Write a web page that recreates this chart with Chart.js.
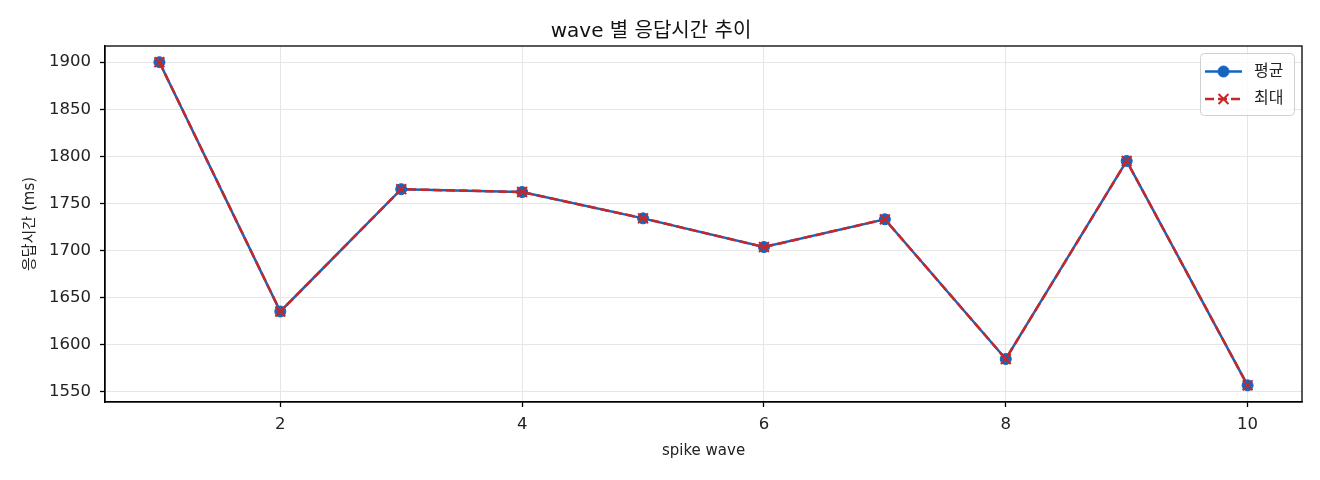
<!DOCTYPE html>
<html>
<head>
<meta charset="utf-8">
<script src="https://cdn.jsdelivr.net/npm/chart.js@4"></script>
<style>
  html, body { margin: 0; padding: 0; background: #fff; }
  #wrap { width: 1320px; height: 480px; }
</style>
</head>
<body>
<div id="wrap"><canvas id="waveChart"></canvas></div>
<script>
// data
var waves = [1, 2, 3, 4, 5, 6, 7, 8, 9, 10];
var avgMs = [1900, 1635, 1765, 1762, 1734, 1703.5, 1733, 1584.5, 1795, 1556.5];
var maxMs = [1900, 1635, 1765, 1762, 1734, 1703.5, 1733, 1584.5, 1795, 1556.5];
var xTicks = [2, 4, 6, 8, 10];
var yTicks = [1550, 1600, 1650, 1700, 1750, 1800, 1850, 1900];

var FONT = '"DejaVu Sans", "Noto Sans CJK KR", sans-serif';
var BLUE = '#1565C0';
var RED = '#C62828';

function toPoints(xs, ys) {
    return xs.map(function (x, i) { return { x: x, y: ys[i] }; });
}

// black frame on top and right like matplotlib spines
var framePlugin = {
    id: 'frame',
    afterDraw: function (chart) {
        var a = chart.chartArea, ctx = chart.ctx;
        ctx.save();
        ctx.strokeStyle = '#000';
        ctx.lineWidth = 1.3;
        ctx.strokeRect(a.left, a.top, a.right - a.left, a.bottom - a.top);
        ctx.restore();
    }
};

// legend inside the plot, upper right, line + marker samples
var legendPlugin = {
    id: 'innerLegend',
    afterDraw: function (chart) {
        var a = chart.chartArea, ctx = chart.ctx;
        var w = 94, h = 62;
        var x0 = a.right - 8 - w, y0 = a.top + 7;
        ctx.save();
        ctx.fillStyle = 'rgba(255,255,255,0.8)';
        ctx.strokeStyle = '#d0d0d0';
        ctx.lineWidth = 1;
        ctx.beginPath();
        ctx.roundRect(x0 + 0.5, y0 + 0.5, w, h, 4);
        ctx.fill();
        ctx.stroke();
        var order = [1, 0];
        order.forEach(function (di, row) {
            var ds = chart.data.datasets[di];
            var cy = y0 + 18.5 + row * 27.5;
            var lx0 = x0 + 5, lx1 = x0 + 42;
            ctx.strokeStyle = ds.borderColor;
            ctx.lineWidth = ds.borderWidth;
            ctx.setLineDash(ds.borderDash || []);
            ctx.beginPath();
            ctx.moveTo(lx0, cy);
            ctx.lineTo(lx1, cy);
            ctx.stroke();
            ctx.setLineDash([]);
            ctx.fillStyle = ds.backgroundColor;
            ctx.strokeStyle = ds.pointBorderColor;
            ctx.lineWidth = ds.pointBorderWidth;
            Chart.helpers.drawPoint(ctx, {
                pointStyle: ds.pointStyle,
                radius: ds.pointRadius,
                borderWidth: ds.pointBorderWidth
            }, (lx0 + lx1) / 2, cy);
            ctx.fillStyle = '#222';
            ctx.font = '16px ' + FONT;
            ctx.textBaseline = 'middle';
            ctx.fillText(ds.label, x0 + 54, cy);
        });
        ctx.restore();
    }
};

var ctx = document.getElementById('waveChart').getContext('2d');
var waveChart = new Chart(ctx, {
    type: 'line',
    data: {
        datasets: [
            {
                label: '최대',
                data: toPoints(waves, maxMs),
                borderColor: RED,
                backgroundColor: RED,
                borderWidth: 2.5,
                borderDash: [9, 4],
                pointStyle: 'crossRot',
                pointRadius: 7,
                pointBorderWidth: 2,
                pointBorderColor: RED,
                order: 0
            },
            {
                label: '평균',
                data: toPoints(waves, avgMs),
                borderColor: BLUE,
                backgroundColor: BLUE,
                borderWidth: 2.5,
                pointStyle: 'circle',
                pointRadius: 5.5,
                pointBorderWidth: 1,
                pointBorderColor: BLUE,
                order: 1
            }
        ]
    },
    options: {
        responsive: true,
        maintainAspectRatio: false,
        animation: false,
        devicePixelRatio: 1,
        layout: { padding: { top: 0, right: 18, bottom: 0, left: 0 } },
        plugins: {
            legend: { display: false },
            tooltip: { enabled: false },
            title: {
                display: true,
                text: 'wave 별 응답시간 추이',
                color: '#111',
                font: { family: FONT, size: 20, weight: 'normal' },
                padding: { top: 20, bottom: 2 }
            }
        },
        scales: {
            x: {
                type: 'linear',
                min: 0.55,
                max: 10.45,
                afterBuildTicks: function (s) {
                    s.ticks = xTicks.map(function (v) { return { value: v }; });
                },
                afterFit: function (s) { s.height = 78; },
                grid: {
                    color: '#e6e6e6',
                    lineWidth: 1,
                    tickLength: 5,
                    tickColor: '#000',
                    tickWidth: 1.3
                },
                border: { display: true, color: '#000', width: 1.3 },
                ticks: {
                    color: '#222',
                    padding: 8,
                    maxRotation: 0,
                    font: { family: FONT, size: 16.5 },
                    callback: function (v) { return String(v); }
                },
                title: {
                    display: true,
                    text: 'spike wave',
                    color: '#222',
                    font: { family: FONT, size: 15 },
                    padding: { top: 0, bottom: 20 }
                }
            },
            y: {
                min: 1538.8,
                max: 1917.2,
                afterBuildTicks: function (s) {
                    s.ticks = yTicks.map(function (v) { return { value: v }; });
                },
                afterFit: function (s) { s.width = 105; },
                grid: {
                    color: '#e6e6e6',
                    lineWidth: 1,
                    tickLength: 5,
                    tickColor: '#000',
                    tickWidth: 1.3
                },
                border: { display: true, color: '#000', width: 1.3 },
                ticks: {
                    color: '#222',
                    padding: 9,
                    font: { family: FONT, size: 16.5 },
                    callback: function (v) { return String(v); }
                },
                title: {
                    display: true,
                    text: '응답시간 (ms)',
                    color: '#222',
                    font: { family: FONT, size: 15 },
                    padding: { top: 21, bottom: 0 }
                }
            }
        }
    },
    plugins: [framePlugin, legendPlugin]
});
</script>
</body>
</html>
